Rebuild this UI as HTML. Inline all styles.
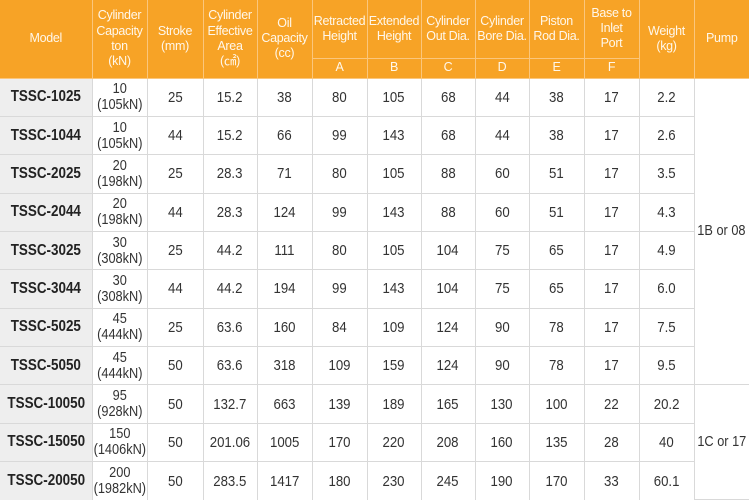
<!DOCTYPE html>
<html>
<head>
<meta charset="utf-8">
<style>
  html, body { margin:0; padding:0; background:#ffffff; }
  body { width:749px; height:500px; overflow:hidden; position:relative;
         font-family:"Liberation Sans","Noto Sans CJK KR",sans-serif; }
  table { position:absolute; left:0; top:0; width:749px; border-collapse:collapse; table-layout:fixed; }
  td, th { padding:0; margin:0; text-align:center; vertical-align:middle; overflow:hidden; white-space:nowrap; }
  thead th { background:#f7a326; color:#fff7ea; font-weight:normal; font-size:12.5px;
             line-height:15.2px; letter-spacing:-0.3px; border:1px solid #fbc67c; }
  thead tr.top th { border-top:none; }
  thead tr.sub th { height:19px; font-size:12.5px; }
  thead tr.top { height:58px; }
  tbody td { border:1px solid #d9d9d9; color:#333333; font-size:15px; height:38.36px; box-sizing:border-box; }
  tbody td span { display:inline-block; transform:scaleX(0.88); margin:0 -20px; }
  tbody td.m { background:#eeeeee; font-weight:bold; color:#222222; font-size:16px; }
  tbody td.m span { transform:scaleX(0.84); }
  tbody td.cap { font-size:14.5px; line-height:16px; }
  tbody td.p { font-size:14.5px; }
  th.first, td.first { border-left:none !important; }
  th.last, td.last { border-right:none !important; }
  tbody tr:last-child td { border-bottom:none; }
</style>
</head>
<body>
<table>
  <colgroup>
    <col style="width:92px"><col style="width:55px"><col style="width:56px"><col style="width:54px">
    <col style="width:55px"><col style="width:55px"><col style="width:54px"><col style="width:54px">
    <col style="width:54px"><col style="width:55px"><col style="width:55px"><col style="width:55px">
    <col style="width:55px">
  </colgroup>
  <thead>
    <tr class="top">
      <th rowspan="2" class="first">Model</th>
      <th rowspan="2">Cylinder<br>Capacity<br>ton<br>(kN)</th>
      <th rowspan="2">Stroke<br>(mm)</th>
      <th rowspan="2">Cylinder<br>Effective<br>Area<br>(㎠)</th>
      <th rowspan="2">Oil<br>Capacity<br>(cc)</th>
      <th>Retracted<br>Height</th>
      <th>Extended<br>Height</th>
      <th>Cylinder<br>Out Dia.</th>
      <th>Cylinder<br>Bore Dia.</th>
      <th>Piston<br>Rod Dia.</th>
      <th>Base to<br>Inlet<br>Port</th>
      <th rowspan="2">Weight<br>(kg)</th>
      <th rowspan="2" class="last">Pump</th>
    </tr>
    <tr class="sub">
      <th>A</th><th>B</th><th>C</th><th>D</th><th>E</th><th>F</th>
    </tr>
  </thead>
  <tbody>
    <tr>
      <td class="m first"><span>TSSC-1025</span></td>
      <td class="cap"><span>10<br>(105kN)</span></td>
      <td><span>25</span></td><td><span>15.2</span></td><td><span>38</span></td>
      <td><span>80</span></td><td><span>105</span></td><td><span>68</span></td>
      <td><span>44</span></td><td><span>38</span></td><td><span>17</span></td><td><span>2.2</span></td>
      <td rowspan="8" class="p last"><span>1B or 08</span></td>
    </tr>
    <tr>
      <td class="m first"><span>TSSC-1044</span></td>
      <td class="cap"><span>10<br>(105kN)</span></td>
      <td><span>44</span></td><td><span>15.2</span></td><td><span>66</span></td>
      <td><span>99</span></td><td><span>143</span></td><td><span>68</span></td>
      <td><span>44</span></td><td><span>38</span></td><td><span>17</span></td><td><span>2.6</span></td>
    </tr>
    <tr>
      <td class="m first"><span>TSSC-2025</span></td>
      <td class="cap"><span>20<br>(198kN)</span></td>
      <td><span>25</span></td><td><span>28.3</span></td><td><span>71</span></td>
      <td><span>80</span></td><td><span>105</span></td><td><span>88</span></td>
      <td><span>60</span></td><td><span>51</span></td><td><span>17</span></td><td><span>3.5</span></td>
    </tr>
    <tr>
      <td class="m first"><span>TSSC-2044</span></td>
      <td class="cap"><span>20<br>(198kN)</span></td>
      <td><span>44</span></td><td><span>28.3</span></td><td><span>124</span></td>
      <td><span>99</span></td><td><span>143</span></td><td><span>88</span></td>
      <td><span>60</span></td><td><span>51</span></td><td><span>17</span></td><td><span>4.3</span></td>
    </tr>
    <tr>
      <td class="m first"><span>TSSC-3025</span></td>
      <td class="cap"><span>30<br>(308kN)</span></td>
      <td><span>25</span></td><td><span>44.2</span></td><td><span>111</span></td>
      <td><span>80</span></td><td><span>105</span></td><td><span>104</span></td>
      <td><span>75</span></td><td><span>65</span></td><td><span>17</span></td><td><span>4.9</span></td>
    </tr>
    <tr>
      <td class="m first"><span>TSSC-3044</span></td>
      <td class="cap"><span>30<br>(308kN)</span></td>
      <td><span>44</span></td><td><span>44.2</span></td><td><span>194</span></td>
      <td><span>99</span></td><td><span>143</span></td><td><span>104</span></td>
      <td><span>75</span></td><td><span>65</span></td><td><span>17</span></td><td><span>6.0</span></td>
    </tr>
    <tr>
      <td class="m first"><span>TSSC-5025</span></td>
      <td class="cap"><span>45<br>(444kN)</span></td>
      <td><span>25</span></td><td><span>63.6</span></td><td><span>160</span></td>
      <td><span>84</span></td><td><span>109</span></td><td><span>124</span></td>
      <td><span>90</span></td><td><span>78</span></td><td><span>17</span></td><td><span>7.5</span></td>
    </tr>
    <tr>
      <td class="m first"><span>TSSC-5050</span></td>
      <td class="cap"><span>45<br>(444kN)</span></td>
      <td><span>50</span></td><td><span>63.6</span></td><td><span>318</span></td>
      <td><span>109</span></td><td><span>159</span></td><td><span>124</span></td>
      <td><span>90</span></td><td><span>78</span></td><td><span>17</span></td><td><span>9.5</span></td>
    </tr>
    <tr>
      <td class="m first"><span>TSSC-10050</span></td>
      <td class="cap"><span>95<br>(928kN)</span></td>
      <td><span>50</span></td><td><span>132.7</span></td><td><span>663</span></td>
      <td><span>139</span></td><td><span>189</span></td><td><span>165</span></td>
      <td><span>130</span></td><td><span>100</span></td><td><span>22</span></td><td><span>20.2</span></td>
      <td rowspan="3" class="p last"><span>1C or 17</span></td>
    </tr>
    <tr>
      <td class="m first"><span>TSSC-15050</span></td>
      <td class="cap"><span>150<br>(1406kN)</span></td>
      <td><span>50</span></td><td><span>201.06</span></td><td><span>1005</span></td>
      <td><span>170</span></td><td><span>220</span></td><td><span>208</span></td>
      <td><span>160</span></td><td><span>135</span></td><td><span>28</span></td><td><span>40</span></td>
    </tr>
    <tr>
      <td class="m first"><span>TSSC-20050</span></td>
      <td class="cap"><span>200<br>(1982kN)</span></td>
      <td><span>50</span></td><td><span>283.5</span></td><td><span>1417</span></td>
      <td><span>180</span></td><td><span>230</span></td><td><span>245</span></td>
      <td><span>190</span></td><td><span>170</span></td><td><span>33</span></td><td><span>60.1</span></td>
    </tr>
  </tbody>
</table>
</body>
</html>
